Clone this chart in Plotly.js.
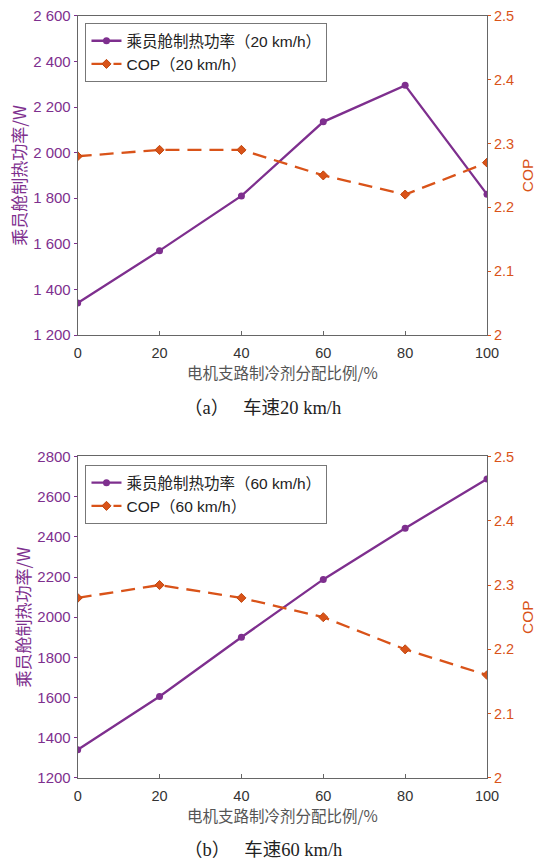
<!DOCTYPE html>
<html>
<head>
<meta charset="utf-8">
<script src="https://cdn.plot.ly/plotly-3.0.1.min.js"></script>
<style>html,body{margin:0;padding:0;background:#fff;}#chart{width:541px;height:859px;}</style>
</head>
<body>
<div id="chart"></div>
<script>
// Data
const ratio = [0, 20, 40, 60, 80, 100];
const power20 = [1340, 1570, 1810, 2135, 2295, 1817];
const cop20 = [2.28, 2.29, 2.29, 2.25, 2.22, 2.27];
const power60 = [1340, 1605, 1900, 2188, 2443, 2688];
const cop60 = [2.28, 2.30, 2.28, 2.25, 2.20, 2.16];
const powerTicksA = [1200, 1400, 1600, 1800, 2000, 2200, 2400, 2600];
const powerTickTextA = ['1 200', '1 400', '1 600', '1 800', '2 000', '2 200', '2 400', '2 600'];
const powerTicksB = [1200, 1400, 1600, 1800, 2000, 2200, 2400, 2600, 2800];
const nameP20 = '乘员舱制热功率（20 km/h）';
const nameC20 = 'COP（20 km/h）';
const nameP60 = '乘员舱制热功率（60 km/h）';
const nameC60 = 'COP（60 km/h）';
const xTitle = '电机支路制冷剂分配比例/%';
const yTitle = '乘员舱制热功率/W';
const y2Title = 'COP';
const captionA = '（a）\u00A0\u00A0\u00A0车速20 km/h';
const captionB = '（b）\u00A0\u00A0\u00A0车速60 km/h';

const PURPLE = '#7E2F8E';
const ORANGE = '#D95319';
const AXIS = '#666666';
const FONT = 'Liberation Sans, Arial, Noto Sans CJK SC, sans-serif';

const traces = [
  {x: ratio, y: power20, xaxis: 'x', yaxis: 'y', name: nameP20, mode: 'lines+markers',
   line: {color: PURPLE, width: 2.3}, marker: {symbol: 'circle', size: 7, color: PURPLE}, legend: 'legend'},
  {x: ratio, y: cop20, xaxis: 'x', yaxis: 'y2', name: nameC20, mode: 'lines+markers',
   line: {color: ORANGE, width: 2.3, dash: '14px,8px'}, marker: {symbol: 'diamond', size: 7, color: ORANGE, line: {color: '#C04810', width: 1}}, legend: 'legend'},
  {x: ratio, y: power60, xaxis: 'x2', yaxis: 'y3', name: nameP60, mode: 'lines+markers',
   line: {color: PURPLE, width: 2.3}, marker: {symbol: 'circle', size: 7, color: PURPLE}, legend: 'legend2'},
  {x: ratio, y: cop60, xaxis: 'x2', yaxis: 'y4', name: nameC60, mode: 'lines+markers',
   line: {color: ORANGE, width: 2.3, dash: '14px,8px'}, marker: {symbol: 'diamond', size: 7, color: ORANGE, line: {color: '#C04810', width: 1}}, legend: 'legend2'}
];

const xd = [0.1436, 0.9002];
const dA = [0.610, 0.9816];
const dB = [0.0944, 0.4686];

function xAxis(anchor, domain) {
  return {domain: xd, anchor: anchor, range: [0, 100], tickvals: ratio, ticks: 'inside', ticklen: 4,
    tickcolor: AXIS, showline: true, linecolor: AXIS, linewidth: 1, mirror: true, zeroline: false,
    showgrid: false, tickfont: {family: FONT, size: 14.5, color: '#333'}, ticklabelstandoff: 5,
    title: {text: xTitle, font: {family: 'Noto Sans CJK SC, sans-serif', size: 15.5, color: '#555'}, standoff: 6},
    automargin: false, fixedrange: true};
}
function yLeft(anchor, domain, range, tv, tt) {
  const a = {domain: domain, anchor: anchor, range: range, tickvals: tv, ticks: 'outside', ticklen: 3,
    tickcolor: PURPLE, showline: true, linecolor: AXIS, linewidth: 1, zeroline: false, showgrid: false,
    tickfont: {family: FONT, size: 15, color: PURPLE},
    title: {text: yTitle, font: {family: 'Noto Sans CJK SC, sans-serif', size: 17, color: PURPLE}, standoff: 2},
    automargin: false};
  if (tt) a.ticktext = tt;
  return a;
}
function yRight(anchor, overlay, domain) {
  return {domain: domain, anchor: anchor, overlaying: overlay, side: 'right', range: [2, 2.5], dtick: 0.1,
    tick0: 2, ticks: 'outside', ticklen: 3, tickcolor: ORANGE, showline: true, linecolor: AXIS, linewidth: 1,
    zeroline: false, showgrid: false, tickfont: {family: FONT, size: 14.5, color: ORANGE},
    title: {text: y2Title, font: {family: FONT, size: 15.5, color: ORANGE}, standoff: 9}, automargin: false};
}

const legendStyle = (y) => ({x: 0.158, y: y, xanchor: 'left', yanchor: 'top', bgcolor: '#fff',
  bordercolor: '#777', borderwidth: 1, font: {family: FONT, size: 15.5, color: '#222'},
  tracegroupgap: 0, itemwidth: 30});

const capFont = {family: 'Liberation Serif, Noto Sans CJK SC, serif', size: 18.5, color: '#222'};

const layout = {
  width: 541, height: 859, margin: {l: 0, r: 0, t: 0, b: 0},
  paper_bgcolor: '#fff', plot_bgcolor: '#fff', showlegend: true,
  xaxis: xAxis('y', dA),
  yaxis: yLeft('x', dA, [1200, 2600], powerTicksA, powerTickTextA),
  yaxis2: yRight('x', 'y', dA),
  xaxis2: xAxis('y3', dB),
  yaxis3: yLeft('x2', dB, [1200, 2800], powerTicksB, null),
  yaxis4: yRight('x2', 'y3', dB),
  legend: legendStyle(0.973),
  legend2: legendStyle(0.4585),
  annotations: [
    {text: captionA, xref: 'paper', yref: 'paper', x: 0.486, y: 0.525, xanchor: 'center', yanchor: 'middle',
     showarrow: false, font: capFont},
    {text: captionB, xref: 'paper', yref: 'paper', x: 0.486, y: 0.0105, xanchor: 'center', yanchor: 'middle',
     showarrow: false, font: capFont}
  ]
};

Plotly.newPlot('chart', traces, layout, {displayModeBar: false, staticPlot: true});
</script>
</body>
</html>
